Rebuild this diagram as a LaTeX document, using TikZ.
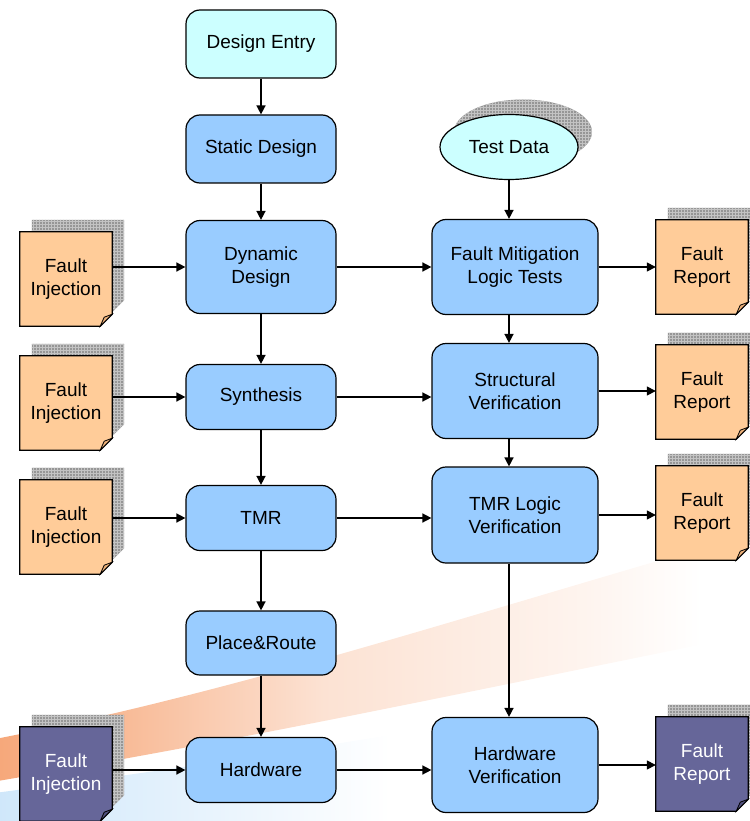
\documentclass[tikz,border=0pt]{standalone}
\usepackage{fontspec}
\setmainfont{Liberation Sans}
\usetikzlibrary{shapes.geometric,arrows.meta,patterns,backgrounds,calc}
\definecolor{boxblue}{RGB}{153,204,255}
\definecolor{entrycyan}{RGB}{204,255,255}
\definecolor{docorange}{RGB}{255,204,153}
\definecolor{foldorange}{RGB}{235,175,120}
\definecolor{docpurple}{RGB}{102,102,153}
\definecolor{foldpurple}{RGB}{80,80,125}
\definecolor{shadowgray}{RGB}{150,150,150}
\definecolor{gridline}{RGB}{195,195,195}
\definecolor{swooshorange}{RGB}{246,165,118}
\definecolor{swooshblue}{RGB}{205,230,250}
\pgfdeclarehorizontalshading{swooshO}{100bp}{color(0bp)=(swooshorange); color(25bp)=(swooshorange); color(34bp)=(swooshorange!75); color(46bp)=(swooshorange!32); color(62bp)=(swooshorange!12); color(69bp)=(white); color(100bp)=(white)}
\pgfdeclarehorizontalshading{swooshB}{100bp}{color(0bp)=(swooshblue); color(25bp)=(swooshblue); color(38bp)=(swooshblue!50); color(50bp)=(white); color(100bp)=(white)}
\tikzset{
  lbl/.style={font=\fontsize{19}{23}\selectfont, align=center, inner sep=0pt},
  box/.style={lbl, draw, line width=1.2pt, rounded corners=14pt, fill=boxblue, minimum width=150pt, minimum height=65pt},
  wbox/.style={box, minimum width=166pt, minimum height=95pt},
  docnode/.style={lbl, minimum width=92pt, minimum height=94pt},
  flow/.style={line width=1.5pt, -{Triangle[length=9pt,width=9pt]}},
  shadowfill/.style={fill=shadowgray},
  shadowgrid/.style={pattern=grid, pattern color=gridline},
  outline/.style={draw, line width=1.2pt},
}
\newcommand\docshape[3]{%
  \path[shadowfill] ($(#1.north west)+(12,-12)$) -- ($(#1.north east)+(12,-12)$) -- ($(#1.south east)+(12,-26)$) -- ($(#1.south east)+(-2,-12)$) -- ($(#1.south west)+(12,-12)$) -- cycle;
  \path[shadowgrid] ($(#1.north west)+(12,-12)$) -- ($(#1.north east)+(12,-12)$) -- ($(#1.south east)+(12,-26)$) -- ($(#1.south east)+(-2,-12)$) -- ($(#1.south west)+(12,-12)$) -- cycle;
  \path[outline, fill=#2] (#1.north west) -- (#1.north east) -- ($(#1.south east)+(0,-12)$) -- ($(#1.south east)+(-12,0)$) -- (#1.south west) -- cycle;
  \path[draw, line width=0.8pt, fill=#3] ($(#1.south east)+(-12,0)$) -- ($(#1.south east)+(0,-12)$) -- ($(#1.south east)+(-8,-9)$) -- cycle;
}
\begin{document}
\begin{tikzpicture}[x=1pt,y=-1pt]
\useasboundingbox (0,0) rectangle (749,821);
% left column
\node[box, fill=entrycyan, minimum height=68pt] (de) at (261,44) {Design Entry};
\node[box, minimum height=68pt] (sd) at (261,149) {Static Design};
\node[box, minimum height=93pt] (dd) at (261,267) {Dynamic\\Design};
\node[box] (syn) at (261,397) {Synthesis};
\node[box] (tmr) at (261,518) {TMR};
\node[box, minimum height=64pt] (pr) at (261,643) {Place\&Route};
\node[box] (hw) at (261,770) {Hardware};
% right column
\node[lbl, ellipse, minimum width=138pt, minimum height=65pt] (td) at (509,147) {Test Data};
\node[wbox] (fmlt) at (515,267) {Fault Mitigation\\Logic Tests};
\node[wbox] (sv) at (515,391) {Structural\\Verification};
\node[wbox, minimum height=96pt] (tlv) at (515,515) {TMR Logic\\Verification};
\node[wbox] (hv) at (515,765) {Hardware\\Verification};
% documents
\node[docnode] (fi1) at (66,279) {Fault\\Injection};
\node[docnode] (fi2) at (66,403) {Fault\\Injection};
\node[docnode] (fi3) at (66,527) {Fault\\Injection};
\node[docnode, text=white] (fi4) at (66,774) {Fault\\Injection};
\node[docnode] (fr1) at (702,267) {Fault\\Report};
\node[docnode] (fr2) at (702,392) {Fault\\Report};
\node[docnode] (fr3) at (702,513) {Fault\\Report};
\node[docnode, text=white] (fr4) at (702,764) {Fault\\Report};
% background elements
\begin{pgfonlayer}{background}
  \path[shading=swooshO]
    (-20,742) .. controls (250,690) and (480,610) .. (800,520) -- (800,625)
    .. controls (520,680) and (300,730) .. (-20,784) -- cycle;
  \path[shading=swooshB]
    (-20,795) .. controls (150,772) and (400,740) .. (800,660) -- (800,840) -- (-20,840) -- cycle;
  \fill[shadowgray] ($(td)+(14,-15)$) ellipse [x radius=69, y radius=32.5];
  \fill[pattern=grid, pattern color=gridline] ($(td)+(14,-15)$) ellipse [x radius=69, y radius=32.5];
  \draw[line width=1.2pt, fill=entrycyan] (td) ellipse [x radius=69, y radius=32.5];
  \docshape{fi1}{docorange}{foldorange}
  \docshape{fi2}{docorange}{foldorange}
  \docshape{fi3}{docorange}{foldorange}
  \docshape{fi4}{docpurple}{foldpurple}
  \docshape{fr1}{docorange}{foldorange}
  \docshape{fr2}{docorange}{foldorange}
  \docshape{fr3}{docorange}{foldorange}
  \docshape{fr4}{docpurple}{foldpurple}
\end{pgfonlayer}
% connectors
\draw[flow] (de) -- (sd);
\draw[flow] (sd) -- (dd);
\draw[flow] (dd) -- (syn);
\draw[flow] (syn) -- (tmr);
\draw[flow] (tmr) -- (pr);
\draw[flow] (pr) -- (hw);
\draw[flow] (fi1.east |- dd.west) -- (dd.west);
\draw[flow] (fi2.east |- syn.west) -- (syn.west);
\draw[flow] (fi3.east |- tmr.west) -- (tmr.west);
\draw[flow] (fi4.east |- hw.west) -- (hw.west);
\draw[flow] (dd.east) -- (dd.east -| fmlt.west);
\draw[flow] (syn.east) -- (syn.east -| sv.west);
\draw[flow] (tmr.east) -- (tmr.east -| tlv.west);
\draw[flow] (hw.east) -- (hw.east -| hv.west);
\draw[flow] (td.south) -- (td.south |- fmlt.north);
\draw[flow] (fmlt.south -| td.south) -- (sv.north -| td.south);
\draw[flow] (sv.south -| td.south) -- (tlv.north -| td.south);
\draw[flow] (tlv.south -| td.south) -- (hv.north -| td.south);
\draw[flow] (fmlt.east) -- (fmlt.east -| fr1.west);
\draw[flow] (sv.east) -- (sv.east -| fr2.west);
\draw[flow] (tlv.east) -- (tlv.east -| fr3.west);
\draw[flow] (hv.east) -- (hv.east -| fr4.west);
\end{tikzpicture}
\end{document}
